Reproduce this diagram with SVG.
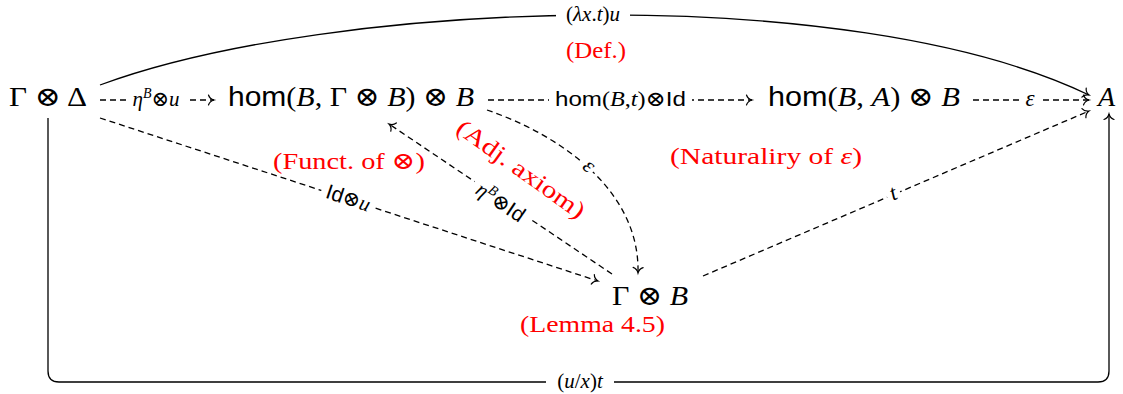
<svg xmlns="http://www.w3.org/2000/svg" width="1123" height="394" viewBox="0 0 1123 394">
<style>
.m{font-family:"Liberation Serif","DejaVu Serif",serif;fill:#000}
.n{font-size:28px}
.l{font-size:21px}
.i{font-style:italic}
.s{font-family:"Liberation Sans","DejaVu Sans",sans-serif}
.sup{font-size:14px}
.red{font-family:"Liberation Serif","DejaVu Serif",serif;font-size:24px;fill:#ff0000}
.c{fill:none;stroke:#000;stroke-width:1.3}
.d{stroke-dasharray:6 4}
.bg{fill:#fff}
</style>
<defs>
<marker id="to" markerUnits="userSpaceOnUse" markerWidth="14" markerHeight="14" viewBox="-8 -7 10 14" refX="0" refY="0" orient="auto" overflow="visible">
<path d="M-5.5,-5 C-4.5,-1.8 -1.5,-0.4 0,0 C-1.5,0.4 -4.5,1.8 -5.5,5" fill="none" stroke="#000" stroke-width="1.2" stroke-linecap="round"/>
</marker>
</defs>

<g id="connectors">
<path class="c" d="M100,85 C330,0 850,-20 1089,95" marker-end="url(#to)"/>
<path class="c d" d="M100,100 L214,100" marker-end="url(#to)"/>
<path class="c d" d="M488,100 L752,100" marker-end="url(#to)"/>
<path class="c d" d="M973,100 L1089,100" marker-end="url(#to)"/>
<path class="c d" d="M100,118 L598,281" marker-end="url(#to)"/>
<path class="c d" d="M612,274 L389,124" marker-end="url(#to)"/>
<path class="c d" d="M487,110 C560,135 640,190 638,273" marker-end="url(#to)"/>
<path class="c d" d="M703,276 L1089,111" marker-end="url(#to)"/>
<path class="c" d="M48,118 L48,371 Q48,382 59,382 L1098,382 Q1109,382 1109,371 L1109,114" marker-end="url(#to)"/>
</g>

<g id="edge-labels">
<rect class="bg" x="556" y="4" width="74" height="24"/>
<text class="m l" x="593" y="21" text-anchor="middle">(<tspan class="i">λx</tspan>.<tspan class="i">t</tspan>)<tspan class="i">u</tspan></text>

<rect class="bg" x="126" y="88" width="60" height="22"/>
<text class="m l" x="156" y="106" text-anchor="middle"><tspan class="i">η</tspan><tspan class="i sup" dy="-8">B</tspan><tspan dy="8">⊗</tspan><tspan class="i">u</tspan></text>

<rect class="bg" x="549" y="88" width="143" height="22"/>
<text class="m l" x="555" y="106" textLength="131" lengthAdjust="spacingAndGlyphs"><tspan class="s">hom</tspan>(<tspan class="i">B</tspan>,<tspan class="i">t</tspan>)⊗<tspan class="s">Id</tspan></text>

<rect class="bg" x="1020" y="90" width="20" height="20"/>
<text class="m i" font-size="23" x="1030" y="106" text-anchor="middle">ε</text>

<g transform="translate(348,199) rotate(18.2)">
<rect class="bg" x="-28" y="-11" width="56" height="22"/>
<text class="m l" x="0" y="6" text-anchor="middle"><tspan class="s">Id</tspan>⊗<tspan class="i">u</tspan></text>
</g>

<g transform="translate(500,203) rotate(34)">
<rect class="bg" x="-33" y="-15" width="66" height="26"/>
<text class="m l" x="0" y="6" text-anchor="middle"><tspan class="i">η</tspan><tspan class="i sup" dy="-8">B</tspan><tspan dy="8">⊗</tspan><tspan class="s">Id</tspan></text>
</g>

<g transform="translate(588,167) rotate(43)">
<rect class="bg" x="-7" y="-8" width="14" height="16"/>
<text class="m i" font-size="22" x="0" y="5" text-anchor="middle">ε</text>
</g>

<g transform="translate(893,193) rotate(-23)">
<rect class="bg" x="-7" y="-10" width="14" height="20"/>
<text class="m i" font-size="22" x="0" y="7" text-anchor="middle">t</text>
</g>

<rect class="bg" x="546" y="371" width="68" height="22"/>
<text class="m l" x="580" y="388" text-anchor="middle">(<tspan class="i">u</tspan>/<tspan class="i">x</tspan>)<tspan class="i">t</tspan></text>
</g>

<g id="n-gamma-delta">
<text class="m n" x="9" y="106" textLength="78" lengthAdjust="spacingAndGlyphs">Γ ⊗ Δ</text>
</g>
<g id="n-hom-gamma">
<text class="m n" x="228" y="106" textLength="246" lengthAdjust="spacingAndGlyphs"><tspan class="s">hom</tspan>(<tspan class="i">B</tspan>, Γ ⊗ <tspan class="i">B</tspan>) ⊗ <tspan class="i">B</tspan></text>
</g>
<g id="n-hom-a">
<text class="m n" x="768" y="106" textLength="192" lengthAdjust="spacingAndGlyphs"><tspan class="s">hom</tspan>(<tspan class="i">B</tspan>, <tspan class="i">A</tspan>) ⊗ <tspan class="i">B</tspan></text>
</g>
<g id="n-a">
<text class="m n i" x="1098" y="106">A</text>
</g>
<g id="n-gamma-b">
<text class="m n" x="612" y="305" textLength="76" lengthAdjust="spacingAndGlyphs">Γ ⊗ <tspan class="i">B</tspan></text>
</g>

<g id="annotations">
<text class="red" x="566" y="58" textLength="60" lengthAdjust="spacingAndGlyphs">(Def.)</text>
<text class="red" x="273" y="169" textLength="152" lengthAdjust="spacingAndGlyphs">(Funct. of ⊗)</text>
<text class="red" x="670" y="164" textLength="192" lengthAdjust="spacingAndGlyphs">(Naturaliry of <tspan font-style="italic">ε</tspan>)</text>
<text class="red" x="520" y="332" textLength="145" lengthAdjust="spacingAndGlyphs">(Lemma 4.5)</text>
<g transform="translate(521,169) rotate(35.5)">
<text class="red" x="-76" y="8" textLength="152" lengthAdjust="spacingAndGlyphs">(Adj. axiom)</text>
</g>
</g>
</svg>
